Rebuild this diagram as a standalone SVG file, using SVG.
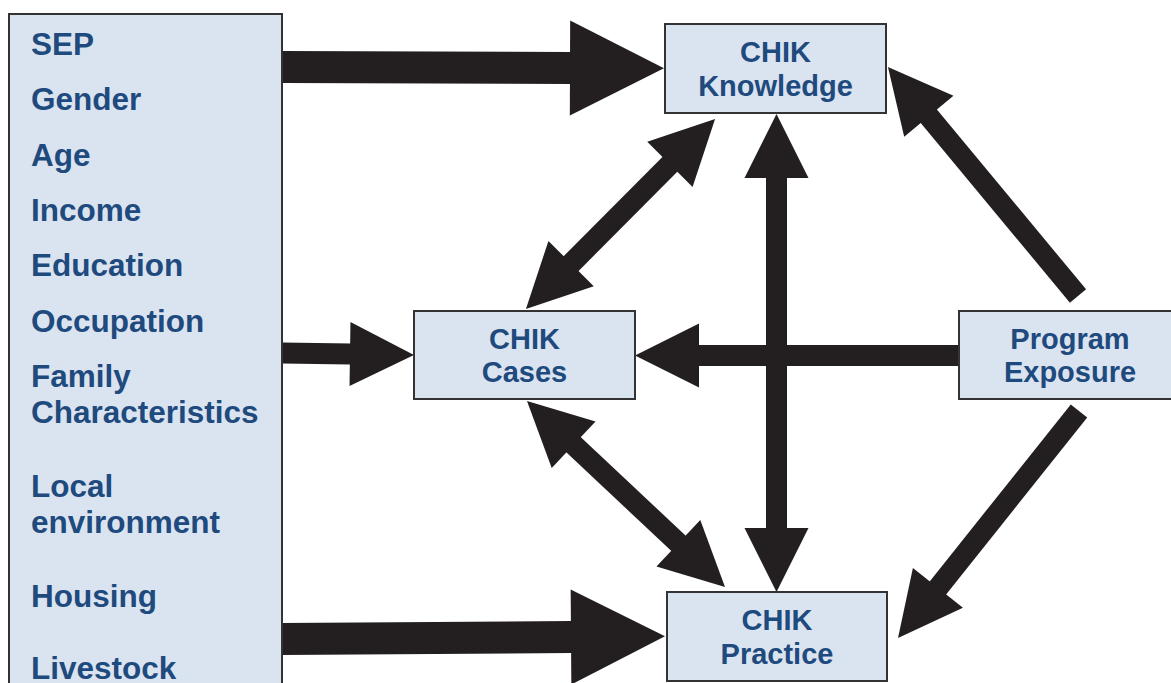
<svg xmlns="http://www.w3.org/2000/svg" width="1171" height="683" viewBox="0 0 1171 683">
  <style>
    .box { fill: #dae4f0; stroke: #333333; stroke-width: 2; }
    .lt { font-family: "Liberation Sans", Arial, sans-serif; font-weight: bold; font-size: 31.5px; fill: #1f4a7e; }
    .nt { font-family: "Liberation Sans", Arial, sans-serif; font-weight: bold; font-size: 29px; fill: #1f4a7e; text-anchor: middle; }
    .sh { stroke: #231f20; stroke-width: 21; fill: none; }
    .shb { stroke: #231f20; stroke-width: 32; fill: none; }
  </style>
  <defs>
    <marker id="h" markerUnits="userSpaceOnUse" markerWidth="64" markerHeight="64" refX="1" refY="32" orient="auto-start-reverse" overflow="visible">
      <path d="M0,0 L64,32 L0,64 Z" fill="#231f20"/>
    </marker>
    <marker id="hb" markerUnits="userSpaceOnUse" markerWidth="94" markerHeight="95" refX="1" refY="47.5" orient="auto" overflow="visible">
      <path d="M0,0 L94,47.5 L0,95 Z" fill="#231f20"/>
    </marker>
  </defs>
  <rect width="1171" height="683" fill="#ffffff"/>

  <g id="connectors">
    <line class="shb" x1="282" y1="67" x2="571" y2="68" marker-end="url(#hb)"/>
    <line class="sh" x1="282" y1="353" x2="351" y2="354" marker-end="url(#h)"/>
    <line class="shb" x1="282" y1="639" x2="572" y2="637" marker-end="url(#hb)"/>
    <line class="sh" x1="776.5" y1="177" x2="776.5" y2="529" marker-start="url(#h)" marker-end="url(#h)"/>
    <line class="sh" x1="960" y1="355.5" x2="698" y2="355.5" marker-end="url(#h)"/>
    <line class="sh" x1="570.4" y1="264.3" x2="670.6" y2="163.7" marker-start="url(#h)" marker-end="url(#h)"/>
    <line class="sh" x1="572.9" y1="444.1" x2="679.1" y2="543.9" marker-start="url(#h)" marker-end="url(#h)"/>
    <line class="sh" x1="1078" y1="296" x2="928.2" y2="115.5" marker-end="url(#h)"/>
    <line class="sh" x1="1079" y1="411" x2="937.3" y2="588.7" marker-end="url(#h)"/>
  </g>

  <g id="factors">
    <rect class="box" x="9" y="14" width="273" height="690"/>
    <text class="lt" x="31" y="55">SEP</text>
    <text class="lt" x="31" y="110">Gender</text>
    <text class="lt" x="31" y="166">Age</text>
    <text class="lt" x="31" y="221">Income</text>
    <text class="lt" x="31" y="276">Education</text>
    <text class="lt" x="31" y="332">Occupation</text>
    <text class="lt" x="31" y="387">Family</text>
    <text class="lt" x="31" y="423">Characteristics</text>
    <text class="lt" x="31" y="497">Local</text>
    <text class="lt" x="31" y="533">environment</text>
    <text class="lt" x="31" y="607">Housing</text>
    <text class="lt" x="31" y="679">Livestock</text>
  </g>

  <g id="knowledge">
    <rect class="box" x="665" y="24" width="221" height="89"/>
    <text class="nt" x="775.5" y="62">CHIK</text>
    <text class="nt" x="775.5" y="96">Knowledge</text>
  </g>

  <g id="cases">
    <rect class="box" x="414" y="311" width="221" height="88"/>
    <text class="nt" x="524.5" y="349">CHIK</text>
    <text class="nt" x="524.5" y="382">Cases</text>
  </g>

  <g id="program">
    <rect class="box" x="959" y="311" width="222" height="88"/>
    <text class="nt" x="1070" y="349">Program</text>
    <text class="nt" x="1070" y="382">Exposure</text>
  </g>

  <g id="practice">
    <rect class="box" x="667" y="592" width="220" height="89"/>
    <text class="nt" x="777" y="630">CHIK</text>
    <text class="nt" x="777" y="664">Practice</text>
  </g>
</svg>
